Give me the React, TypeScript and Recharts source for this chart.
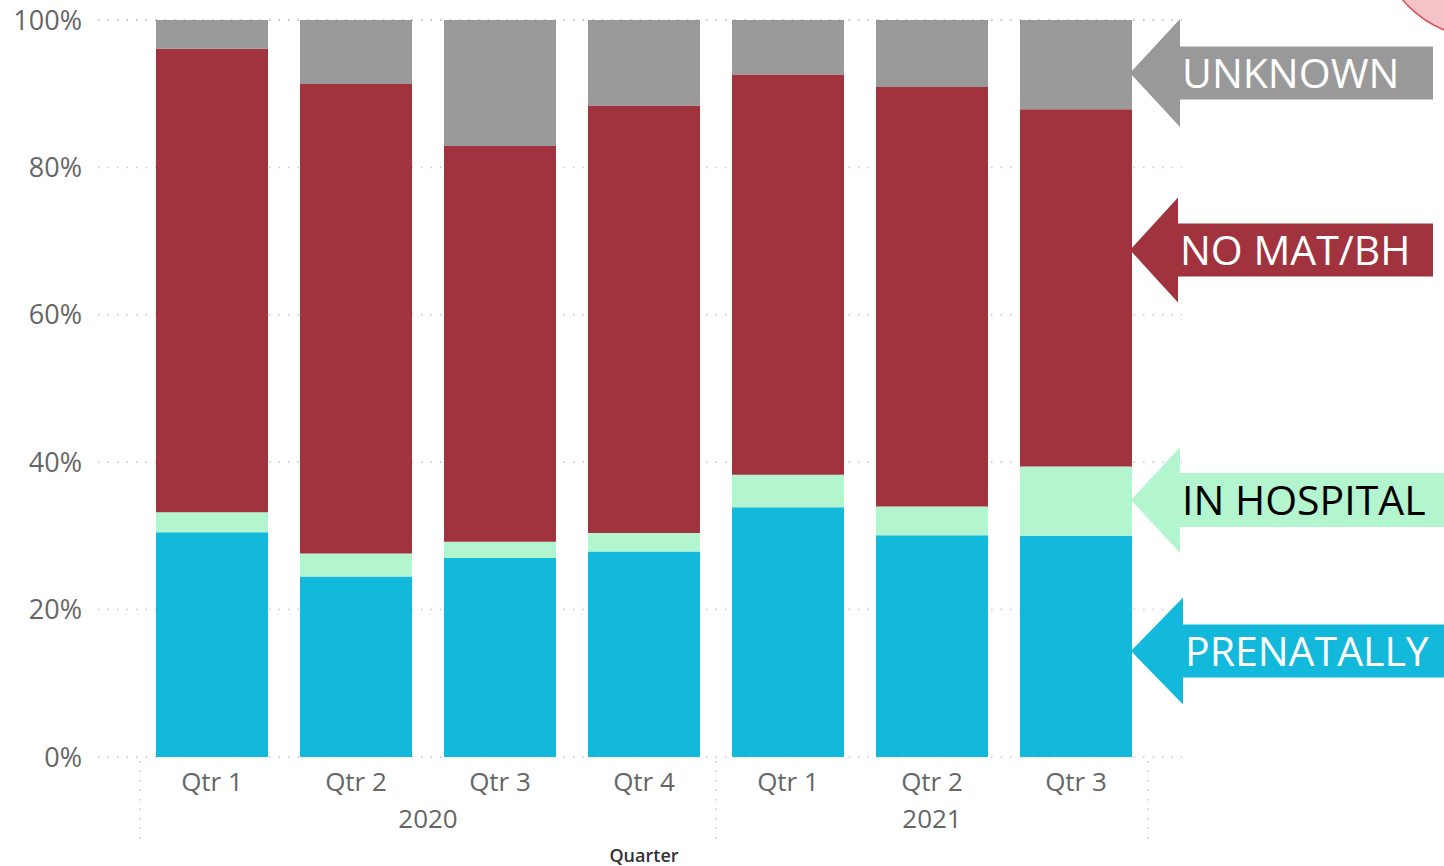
import { Bar, BarChart, CartesianGrid, XAxis, YAxis } from 'recharts';

const quarters = ['Qtr 1', 'Qtr 2', 'Qtr 3', 'Qtr 4', 'Qtr 1', 'Qtr 2', 'Qtr 3'];
const years = ['2020', '2020', '2020', '2020', '2021', '2021', '2021'];

// segment shares in %, bottom to top
const prenatally = [30.5, 24.5, 27.0, 27.9, 33.9, 30.1, 30.0];
const inHospital = [2.7, 3.1, 2.2, 2.5, 4.4, 3.9, 9.4];
const noMatBh = [62.9, 63.7, 53.7, 58.0, 54.3, 56.9, 48.5];
const unknown = [3.9, 8.7, 17.1, 11.6, 7.4, 9.1, 12.1];

const yTicks = [0, 20, 40, 60, 80, 100];

const COLORS = {
  prenatally: '#12B9DB',
  inHospital: '#B3F5CF',
  noMatBh: '#A0333D',
  unknown: '#999999',
};

const FONT = '"Segoe UI", "Open Sans", sans-serif';

const data = quarters.map((q, i) => ({
  key: `${years[i]} ${q}`,
  prenatally: prenatally[i],
  inHospital: inHospital[i],
  noMatBh: noMatBh[i],
  unknown: unknown[i],
}));

function QuarterTick(props: any) {
  const { x, y, index, payload } = props;
  const half = payload?.offset || 72;
  const year = years[index];
  const first = index === 0 || years[index - 1] !== year;
  const last = index === years.length - 1;
  const count = years.filter((v) => v === year).length;
  const dotted = { stroke: '#c8c8c8', strokeWidth: 1.5, strokeDasharray: '1.5 8' };

  return (
    <g>
      <text x={x} y={y + 34} textAnchor="middle" fill="#666" fontSize={26} fontFamily={FONT}>
        {quarters[index]}
      </text>
      {first && (
        <>
          <line x1={x - half} x2={x - half} y1={y + 4} y2={y + 84} {...dotted} />
          <text x={x - half + count * half} y={y + 71} textAnchor="middle" fill="#666" fontSize={26} fontFamily={FONT}>
            {year}
          </text>
        </>
      )}
      {last && <line x1={x + half} x2={x + half} y1={y + 4} y2={y + 84} {...dotted} />}
    </g>
  );
}

function Arrow({ tipY, tipX, headX, headH, bodyH, right, fill, label, textFill }: any) {
  const top = tipY - headH / 2;
  const bot = tipY + headH / 2;
  const bTop = tipY - bodyH / 2;
  const bBot = tipY + bodyH / 2;
  const pts = [
    [tipX, tipY],
    [headX, top],
    [headX, bTop],
    [right, bTop],
    [right, bBot],
    [headX, bBot],
    [headX, bot],
  ]
    .map((p) => p.join(','))
    .join(' ');
  return (
    <g>
      <polygon points={pts} fill={fill} />
      <text x={headX + 2} y={tipY + 15} fill={textFill} fontSize={41} fontFamily={FONT}>
        {label}
      </text>
    </g>
  );
}

export default function App() {
  return (
    <div style={{ position: 'absolute', left: 0, top: 0, width: 1444, height: 866, background: '#fff', fontFamily: FONT }}>
      <BarChart
        width={1444}
        height={866}
        data={data}
        margin={{ top: 20, right: 262, bottom: 0, left: 8 }}
        barCategoryGap={16}
      >
        <CartesianGrid vertical={false} stroke="#c8c8c8" strokeWidth={1.5} strokeDasharray="1.5 8" />
        <XAxis
          dataKey="key"
          interval={0}
          height={109}
          axisLine={false}
          tickLine={false}
          tickSize={0}
          tickMargin={0}
          padding={{ left: 42, right: 34 }}
          tick={<QuarterTick />}
          label={{ value: 'Quarter', position: 'insideBottom', offset: 4, dx: 4, fill: '#333', fontSize: 18, fontWeight: 600 }}
        />
        <YAxis
          width={90}
          domain={[0, 100]}
          ticks={yTicks}
          axisLine={false}
          tickLine={false}
          tickMargin={10}
          tickFormatter={(v) => `${v}%`}
          tick={{ fill: '#666', fontSize: 27, fontFamily: FONT }}
        />
        <Bar dataKey="prenatally" stackId="s" fill={COLORS.prenatally} isAnimationActive={false} />
        <Bar dataKey="inHospital" stackId="s" fill={COLORS.inHospital} isAnimationActive={false} />
        <Bar dataKey="noMatBh" stackId="s" fill={COLORS.noMatBh} isAnimationActive={false} />
        <Bar dataKey="unknown" stackId="s" fill={COLORS.unknown} isAnimationActive={false} />
      </BarChart>
      <svg width={1444} height={866} style={{ position: 'absolute', left: 0, top: 0, pointerEvents: 'none' }}>
        <circle cx={1485} cy={-70} r={108} fill="#F4C3C8" stroke="#D9535E" strokeWidth={1.5} />
        <Arrow tipX={1130} tipY={73} headX={1180} headH={108} bodyH={53} right={1433} fill={COLORS.unknown} label="UNKNOWN" textFill="#fff" />
        <Arrow tipX={1130} tipY={250} headX={1178} headH={105} bodyH={53} right={1433} fill={COLORS.noMatBh} label="NO MAT/BH" textFill="#fff" />
        <Arrow tipX={1131} tipY={500} headX={1180} headH={106} bodyH={54} right={1444} fill={COLORS.inHospital} label="IN HOSPITAL" textFill="#000" />
        <Arrow tipX={1131} tipY={651} headX={1183} headH={107} bodyH={53} right={1444} fill={COLORS.prenatally} label="PRENATALLY" textFill="#fff" />
      </svg>
    </div>
  );
}
